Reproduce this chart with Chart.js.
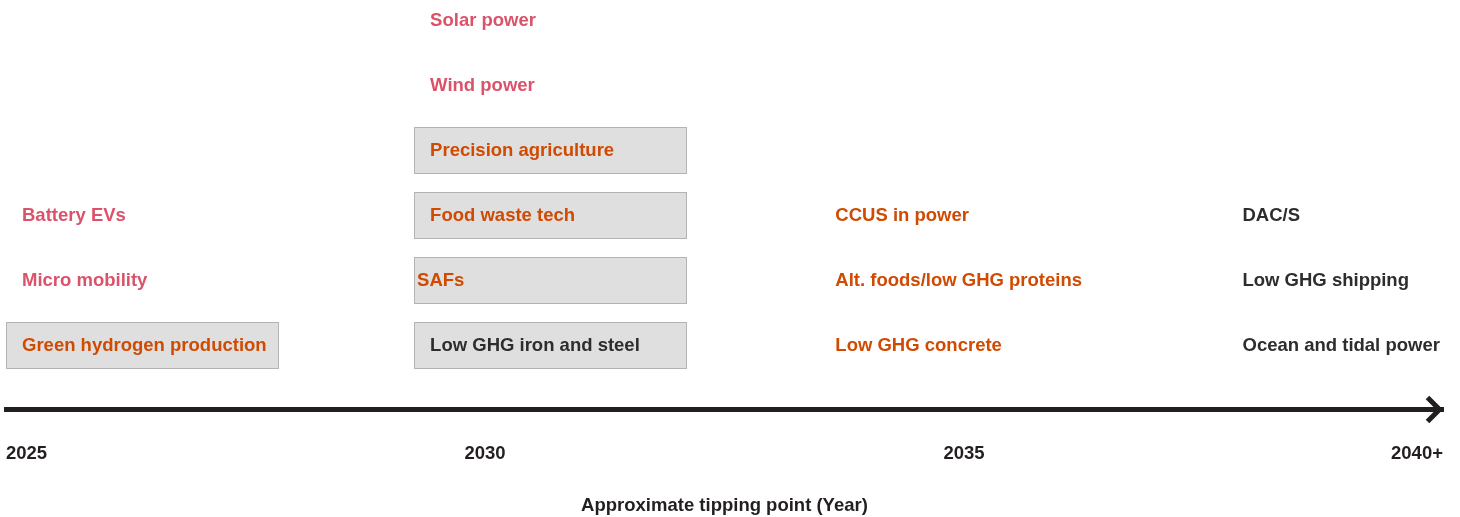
<!DOCTYPE html>
<html>
<head>
<meta charset="utf-8">
<title>Approximate tipping point</title>
<script src="https://cdn.jsdelivr.net/npm/chart.js@4.4.1/dist/chart.umd.min.js"></script>
<style>
    html, body { margin: 0; padding: 0; background: #ffffff; }
    #wrap { width: 1460px; height: 517px; position: relative; }
</style>
</head>
<body>
<div id="wrap"><canvas id="grafico"></canvas></div>
<script>
// Datos: tecnologías y su punto de inflexión aproximado
const technologies = [
    'Solar power', 'Wind power', 'Precision agriculture', 'Food waste tech', 'SAFs', 'Low GHG iron and steel',
    'Battery EVs', 'Micro mobility', 'Green hydrogen production',
    'CCUS in power', 'Alt. foods/low GHG proteins', 'Low GHG concrete',
    'DAC/S', 'Low GHG shipping', 'Ocean and tidal power'
];
const tippingYear = [
    2029.26, 2029.26, 2029.26, 2029.26, 2029.26, 2029.26,
    2025.0, 2025.0, 2025.0,
    2033.49, 2033.49, 2033.49,
    2037.74, 2037.74, 2037.74
];
const rowIndex = [
    5, 4, 3, 2, 1, 0,
    2, 1, 0,
    2, 1, 0,
    2, 1, 0
];
const groupOf = [
    'rose', 'rose', 'orange', 'orange', 'orange', 'dark',
    'rose', 'rose', 'orange',
    'orange', 'orange', 'orange',
    'dark', 'dark', 'dark'
];
// fin del recuadro gris (null = sin recuadro)
const boxEndYear = [
    null, null, 2032.10, 2032.10, 2032.10, 2032.10,
    null, null, 2027.84,
    null, null, null,
    null, null, null
];
const groups = ['rose', 'orange', 'dark'];
const yearTicks = [2025, 2030, 2035, 2040];
const yearLabels = ['2025', '2030', '2035', '2040+'];
const axisTitle = 'Approximate tipping point (Year)';

// Estilos
const colores = { rose: '#db536a', orange: '#d04a02', dark: '#2d2d2d' };
const FUENTE = '"Liberation Sans", Arial, Helvetica, sans-serif';
const TAM = 18.5;
const textIndent = { 'SAFs': 3 };

// Construir datasets por grupo de color
const datasets = groups.map(function(g) {
    const puntos = [];
    technologies.forEach(function(name, i) {
        if (groupOf[i] !== g) return;
        puntos.push({ x: tippingYear[i], y: rowIndex[i], name: name, boxEnd: boxEndYear[i] });
    });
    return {
        label: g,
        data: puntos,
        pointRadius: 0,
        pointHoverRadius: 0,
        color: colores[g]
    };
});

// Plugin para recuadros, etiquetas y flecha del eje
const etiquetasPlugin = {
    id: 'etiquetas',
    afterDatasetsDraw(chart) {
        const ctx = chart.ctx;
        const xScale = chart.scales.x;
        ctx.save();
        // recuadros
        chart.data.datasets.forEach(function(ds, di) {
            const meta = chart.getDatasetMeta(di);
            meta.data.forEach(function(el, j) {
                const p = ds.data[j];
                if (p.boxEnd == null) return;
                const x1 = Math.round(el.x) + 0.5;
                const x2 = Math.round(xScale.getPixelForValue(p.boxEnd)) + 0.5;
                const y1 = Math.round(el.y - 23) + 0.5;
                const h = 46;
                ctx.fillStyle = '#dfdfdf';
                ctx.fillRect(x1, y1, x2 - x1, h);
                ctx.setLineDash([1, 1]);
                ctx.lineWidth = 1;
                ctx.strokeStyle = '#777777';
                ctx.strokeRect(x1, y1, x2 - x1, h);
                ctx.setLineDash([]);
            });
        });
        // textos
        ctx.font = 'bold ' + TAM + 'px ' + FUENTE;
        ctx.textBaseline = 'middle';
        ctx.textAlign = 'left';
        chart.data.datasets.forEach(function(ds, di) {
            const meta = chart.getDatasetMeta(di);
            meta.data.forEach(function(el, j) {
                const p = ds.data[j];
                const indent = textIndent[p.name] !== undefined ? textIndent[p.name] : 16;
                ctx.fillStyle = ds.color;
                ctx.fillText(p.name, el.x + indent, el.y + 1.5);
            });
        });
        ctx.restore();
    },
    afterDraw(chart) {
        // punta de flecha al final del eje
        const ctx = chart.ctx;
        const area = chart.chartArea;
        const vx = area.right - 3.5;
        const vy = area.bottom;
        ctx.save();
        ctx.strokeStyle = '#231f20';
        ctx.lineWidth = 5;
        ctx.lineJoin = 'miter';
        ctx.lineCap = 'butt';
        ctx.beginPath();
        ctx.moveTo(vx - 12, vy - 12);
        ctx.lineTo(vx, vy);
        ctx.lineTo(vx - 12, vy + 12);
        ctx.stroke();
        ctx.restore();
    }
};

new Chart(document.getElementById('grafico').getContext('2d'), {
    type: 'scatter',
    data: { datasets: datasets },
    options: {
        responsive: true,
        maintainAspectRatio: false,
        animation: false,
        events: [],
        layout: { padding: { left: 6, right: 17, top: 0, bottom: 0 } },
        plugins: {
            legend: { display: false },
            tooltip: { enabled: false }
        },
        scales: {
            x: {
                type: 'linear',
                min: 2025,
                max: 2040,
                afterBuildTicks: function(scale) {
                    scale.ticks = yearTicks.map(function(v) { return { value: v }; });
                },
                afterFit: function(scale) {
                    // las etiquetas se alinean hacia dentro: sin relleno extra
                    scale.paddingLeft = 0;
                    scale.paddingRight = 0;
                },
                grid: { display: false, drawTicks: false },
                border: { display: true, width: 5, color: '#231f20' },
                ticks: {
                    align: 'inner',
                    padding: 33,
                    color: '#231f20',
                    font: { family: FUENTE, size: TAM, weight: 'bold' },
                    callback: function(value) {
                        const k = yearTicks.indexOf(value);
                        return k >= 0 ? yearLabels[k] : '';
                    }
                },
                title: {
                    display: true,
                    text: axisTitle,
                    color: '#231f20',
                    padding: { top: -3, bottom: 0 },
                    font: { family: FUENTE, size: TAM, weight: 'bold' }
                }
            },
            y: {
                type: 'linear',
                display: false,
                min: -1,
                max: 5.3
            }
        }
    },
    plugins: [etiquetasPlugin]
});
</script>
</body>
</html>
